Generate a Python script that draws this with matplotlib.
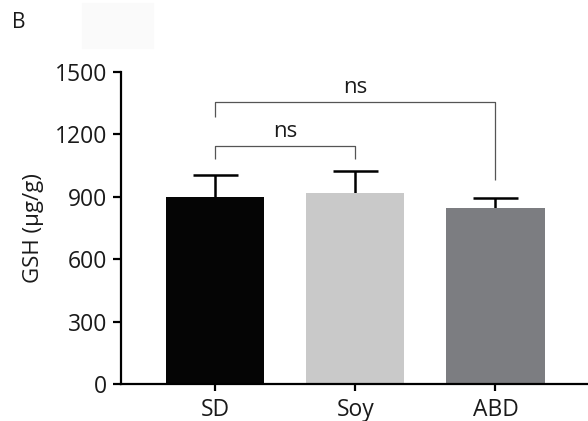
import matplotlib
matplotlib.use("Agg")
import matplotlib.pyplot as plt
from matplotlib.patches import Rectangle

plt.rcParams['font.family'] = ['Open Sans', 'DejaVu Sans']

categories = ["SD", "Soy", "ABD"]
means = [900, 916, 844]
errors = [105, 109, 48]
colors = ["#050505", "#c9c9c9", "#7c7d81"]
yticks = [0, 300, 600, 900, 1200, 1500]

# significance annotations: (i, j, bar_height, left_leg_end, right_leg_end, label)
brackets = [
    (0, 1, 1144, 1080, 1080, "ns"),
    (0, 2, 1354, 1285, 981, "ns"),
]

W, H = 588, 421
fig = plt.figure(figsize=(W / 100, H / 100), dpi=100)
fig.patches.append(Rectangle((82 / W, 1 - 48 / H), 71 / W, 45 / H,
                             transform=fig.transFigure, color="#fafafa", zorder=0))

ax = fig.add_axes([121 / W, 37 / H, (W - 121) / W, 312 / H])
x = list(range(len(categories)))
ax.bar(x, means, width=0.7, color=colors, zorder=2)
ax.errorbar(x, means, yerr=errors, fmt="none",
            ecolor="black", elinewidth=1.8, capsize=16.2, capthick=1.8, zorder=1)

for i, j, yb, yl, yr, lab in brackets:
    ax.plot([i, i, j, j], [yl, yb, yb, yr], color="#555555", lw=0.9,
            solid_capstyle="butt", zorder=3)
    ax.text((i + j) / 2, yb + 70, lab, ha="center", va="center",
            fontsize=16, color="#1a1a1a")

ax.set_xlim(-0.671, 2.66)
ax.set_ylim(0, 1500)
ax.set_yticks(yticks)
ax.set_yticklabels([str(v) for v in yticks])
ax.set_xticks(x)
ax.set_xticklabels(categories)

for s in ["top", "right"]:
    ax.spines[s].set_visible(False)
for s in ["left", "bottom"]:
    ax.spines[s].set_linewidth(1.6)
ax.tick_params(axis="both", width=1.6, length=6, direction="out",
               labelsize=16.5, colors="black", labelcolor="#1a1a1a", pad=4)
ax.tick_params(axis="x", length=5, pad=5)
ax.set_ylabel("GSH (µg/g)", fontsize=16, color="#1a1a1a", labelpad=8)

fig.text(12 / W, 1 - 22 / H, "B", fontsize=15, va="center", ha="left", color="#1a1a1a")

fig.savefig("out.png", dpi=100)
